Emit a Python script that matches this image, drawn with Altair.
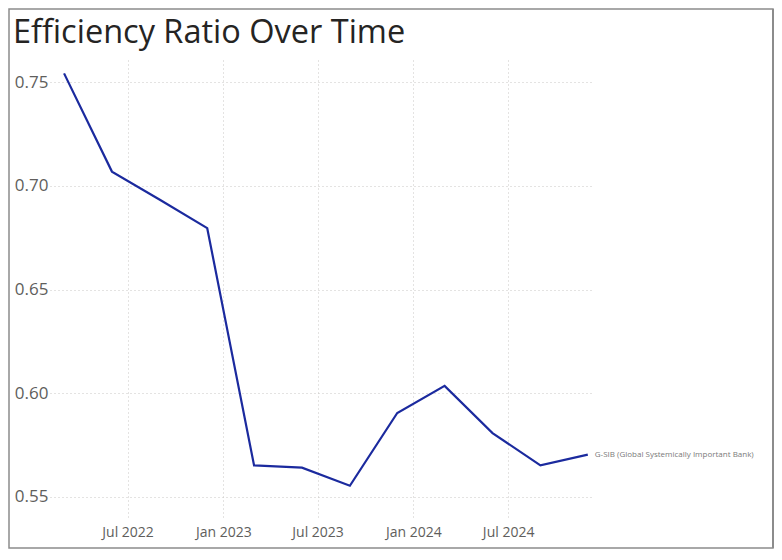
import altair as alt
import pandas as pd

# ---- data ----
dates = ["2022-03-01", "2022-06-01", "2022-09-01", "2022-12-01",
         "2023-03-01", "2023-06-01", "2023-09-01", "2023-12-01",
         "2024-03-01", "2024-06-01", "2024-09-01", "2024-12-01"]
ratio = [0.7543, 0.7069, 0.6933, 0.6796,
         0.5651, 0.5640, 0.5553, 0.5904,
         0.6035, 0.5807, 0.5651, 0.5703]
series_name = "G-SIB (Global Systemically Important Bank)"
x_tick_months = [(2022, 7), (2023, 1), (2023, 7), (2024, 1), (2024, 7)]
y_ticks = [0.55, 0.60, 0.65, 0.70, 0.75]
chart_title = "Efficiency Ratio Over Time"

df = pd.DataFrame({"date": dates, "ratio": ratio, "series": series_name})
last = df.tail(1)

LINE = "#1B2A9E"
LABEL = "#605E5C"
GRID = "#C8C6C4"

xscale = alt.Scale(type="utc", nice=False,
                   domain=[alt.DateTime(year=2022, month=2, date=2, utc=True),
                           alt.DateTime(year=2024, month=12, date=11, utc=True)])
yscale = alt.Scale(domain=[0.53876, 0.76076], nice=False, zero=False)

xaxis = alt.Axis(values=[alt.DateTime(year=y, month=m, date=1, utc=True) for y, m in x_tick_months],
                 labelExpr="utcFormat(datum.value, '%b %Y')", title=None, domain=False, ticks=False,
                 grid=True, gridDash=[1, 3], gridColor=GRID, gridWidth=1,
                 labelFont="Open Sans", labelFontSize=14, labelColor=LABEL, labelPadding=5)
yaxis = alt.Axis(values=y_ticks, format=".2f", title=None, domain=False, ticks=False,
                 grid=True, gridDash=[1, 3], gridColor=GRID, gridWidth=1,
                 labelFont="Open Sans", labelFontSize=17, labelColor=LABEL, labelPadding=2)

base = alt.Chart(df)
line = base.mark_line(color=LINE, strokeWidth=2.2).encode(
    x=alt.X("date:T", scale=xscale, axis=xaxis),
    y=alt.Y("ratio:Q", scale=yscale, axis=yaxis),
)
label = alt.Chart(last).mark_text(align="left", baseline="middle", dx=7,
                                  font="Open Sans", fontSize=8, color="#7A7A7A").encode(
    x=alt.X("date:T", scale=xscale),
    y=alt.Y("ratio:Q", scale=yscale),
    text="series:N",
)

one = pd.DataFrame({"k": [0], "title": [chart_title]})
title_mark = alt.Chart(one).mark_text(align="left", baseline="alphabetic",
                                      font="Open Sans", fontSize=32.5, color="#252423").encode(
    x=alt.value(-37), y=alt.value(-17), text="title:N")
frame = alt.Chart(one).mark_rect(fill="transparent", stroke="#8C8C8C", strokeWidth=1.5).encode(
    x=alt.value(-41), x2=alt.value(723), y=alt.value(-51), y2=alt.value(488))
edge = alt.Chart(one).mark_rule(color="#8C8C8C", strokeWidth=2).encode(
    x=alt.value(723), y=alt.value(-51), y2=alt.value(488))

chart = alt.layer(frame, edge, title_mark, line, label).properties(
    width=543, height=460,
    padding={"left": 42, "top": 52, "right": 181, "bottom": 32},
    autosize=alt.AutoSizeParams(type="none"),
    background="white",
).configure_view(strokeWidth=0)

chart.save("out.html", embed_options={"renderer": "svg", "actions": False})
